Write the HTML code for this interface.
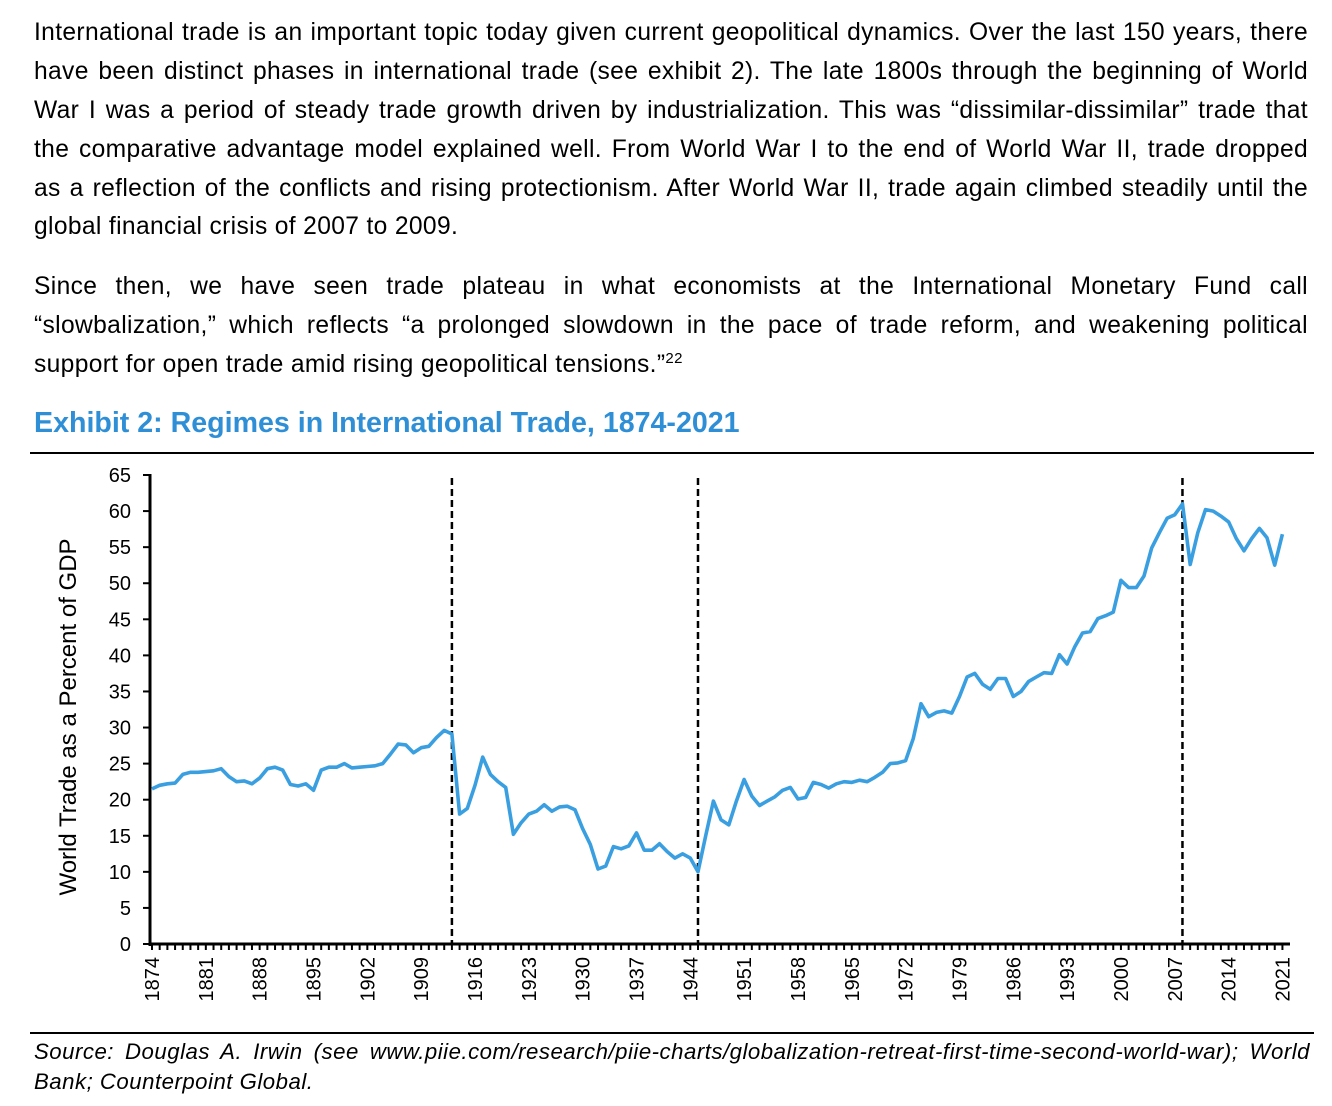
<!DOCTYPE html>
<html><head><meta charset="utf-8">
<style>
body{margin:0;width:1332px;height:1106px;background:#fff;font-family:"Liberation Sans",Arial,sans-serif;color:#000;position:relative;overflow:hidden}
.l{position:absolute;left:34px;width:1274px;font-size:24.6px;letter-spacing:0.35px;line-height:30px;white-space:nowrap;text-align:justify;text-align-last:justify}
.l.last{text-align-last:left}
.title{position:absolute;left:34px;top:407px;font-size:28.6px;font-weight:bold;color:#2f8fd6}
.rule{position:absolute;left:30px;width:1284px;height:1.5px;background:#000}
.s{position:absolute;left:34px;width:1276px;font-size:22.2px;letter-spacing:0.5px;font-style:italic;line-height:30px;white-space:nowrap;text-align:justify;text-align-last:justify}
.s.last{text-align-last:left}
svg{position:absolute;left:0;top:0}
</style></head><body>
<div>
<div class="l" style="top:18px">International trade is an important topic today given current geopolitical dynamics. Over the last 150 years, there</div>
<div class="l" style="top:57px">have been distinct phases in international trade (see exhibit 2). The late 1800s through the beginning of World</div>
<div class="l" style="top:96px">War I was a period of steady trade growth driven by industrialization. This was “dissimilar-dissimilar” trade that</div>
<div class="l" style="top:135px">the comparative advantage model explained well. From World War I to the end of World War II, trade dropped</div>
<div class="l" style="top:174px">as a reflection of the conflicts and rising protectionism. After World War II, trade again climbed steadily until the</div>
<div class="l last" style="top:212px">global financial crisis of 2007 to 2009.</div>
</div>
<div>
<div class="l" style="top:272px">Since then, we have seen trade plateau in what economists at the International Monetary Fund call</div>
<div class="l" style="top:311px">“slowbalization,” which reflects “a prolonged slowdown in the pace of trade reform, and weakening political</div>
<div class="l last" style="top:350px">support for open trade amid rising geopolitical tensions.”<span style="font-size:15px;position:relative;top:-9px">22</span></div>
</div>
<div class="title">Exhibit 2: Regimes in International Trade, 1874-2021</div>
<div class="rule" style="top:452px"></div>
<div class="rule" style="top:1032px"></div>
<div>
<div class="s" style="top:1037px">Source: Douglas A. Irwin (see www.piie.com/research/piie-charts/globalization-retreat-first-time-second-world-war); World</div>
<div class="s last" style="top:1067px">Bank; Counterpoint Global.</div>
</div>
<svg id="chart" width="1332" height="1106"></svg>
<script>
const startYear=1874;
const tradeValues=[21.5,22,22.2,22.3,23.5,23.8,23.8,23.9,24,24.3,23.2,22.5,22.6,22.2,23,24.3,24.5,24.1,22.1,21.9,22.2,21.3,24.1,24.5,24.5,25,24.4,24.5,24.6,24.7,25,26.3,27.7,27.6,26.5,27.2,27.4,28.6,29.6,29.1,18,18.8,22,25.9,23.5,22.5,21.7,15.2,16.8,18,18.4,19.3,18.4,19,19.1,18.6,16,13.8,10.4,10.8,13.5,13.2,13.6,15.4,13,13,13.9,12.8,11.9,12.5,11.9,10,15,19.8,17.2,16.5,19.8,22.8,20.5,19.2,19.8,20.4,21.3,21.7,20.1,20.3,22.4,22.1,21.6,22.2,22.5,22.4,22.7,22.5,23.1,23.8,25,25.1,25.4,28.5,33.3,31.5,32.1,32.3,32,34.3,37,37.5,36,35.3,36.8,36.8,34.3,35,36.4,37,37.6,37.5,40.1,38.8,41.2,43.1,43.3,45.1,45.5,46,50.4,49.4,49.4,51,54.9,57,59,59.5,61,52.6,57,60.2,60,59.3,58.5,56.2,54.5,56.2,57.6,56.3,52.5,56.8];
const yTicks=[0,5,10,15,20,25,30,35,40,45,50,55,60,65];
const xTickYears=[1874,1881,1888,1895,1902,1909,1916,1923,1930,1937,1944,1951,1958,1965,1972,1979,1986,1993,2000,2007,2014,2021];
const regimeBreaks=[1913,1945,2008];
const NS="http://www.w3.org/2000/svg";
const svg=document.getElementById('chart');
const x=yr=>152+(yr-startYear)*7.69;
const y=v=>944-v*(469/65);
function mk(t,a){const e=document.createElementNS(NS,t);for(const k in a)e.setAttribute(k,a[k]);svg.appendChild(e);return e;}
let ax=mk('line',{x1:150,y1:474,x2:150,y2:946,stroke:'#000','stroke-width':3});


let bx=mk('line',{x1:149,y1:944,x2:1290,y2:944,stroke:'#000','stroke-width':3});


yTicks.forEach(v=>{
  const t=mk('line',{x1:143,y1:y(v),x2:150,y2:y(v),stroke:'#000','stroke-width':2});
  
  
  const l=mk('text',{x:131,y:y(v)+7,'text-anchor':'end','font-size':20,'font-family':'Liberation Sans, Arial, sans-serif'});
  l.textContent=v;
  
  
});
for(let i=0;i<tradeValues.length;i++){
  const t=mk('line',{x1:x(startYear+i),y1:944,x2:x(startYear+i),y2:950,stroke:'#000','stroke-width':2});
  
  
}
xTickYears.forEach(yr=>{
  const l=mk('text',{x:0,y:0,'text-anchor':'end','font-size':20,'font-family':'Liberation Sans, Arial, sans-serif',transform:`translate(${x(yr)+7},957) rotate(-90)`});
  l.textContent=yr;
  
  
});
regimeBreaks.forEach(yr=>{
  const d=mk('line',{x1:x(yr),y1:478,x2:x(yr),y2:944,stroke:'#000','stroke-width':2.5,'stroke-dasharray':'7,4'});
  
  
});
const pts=tradeValues.map((v,i)=>x(startYear+i).toFixed(1)+','+y(v).toFixed(1)).join(' ');
const pl=mk('polyline',{points:pts,fill:'none',stroke:'#3a9fe0','stroke-width':3.6,'stroke-linejoin':'round'});


const yt=mk('text',{x:0,y:0,'text-anchor':'middle','font-size':24,'font-family':'Liberation Sans, Arial, sans-serif',transform:'translate(76,717) rotate(-90)'});
yt.textContent='World Trade as a Percent of GDP';


</script>
</body></html>
